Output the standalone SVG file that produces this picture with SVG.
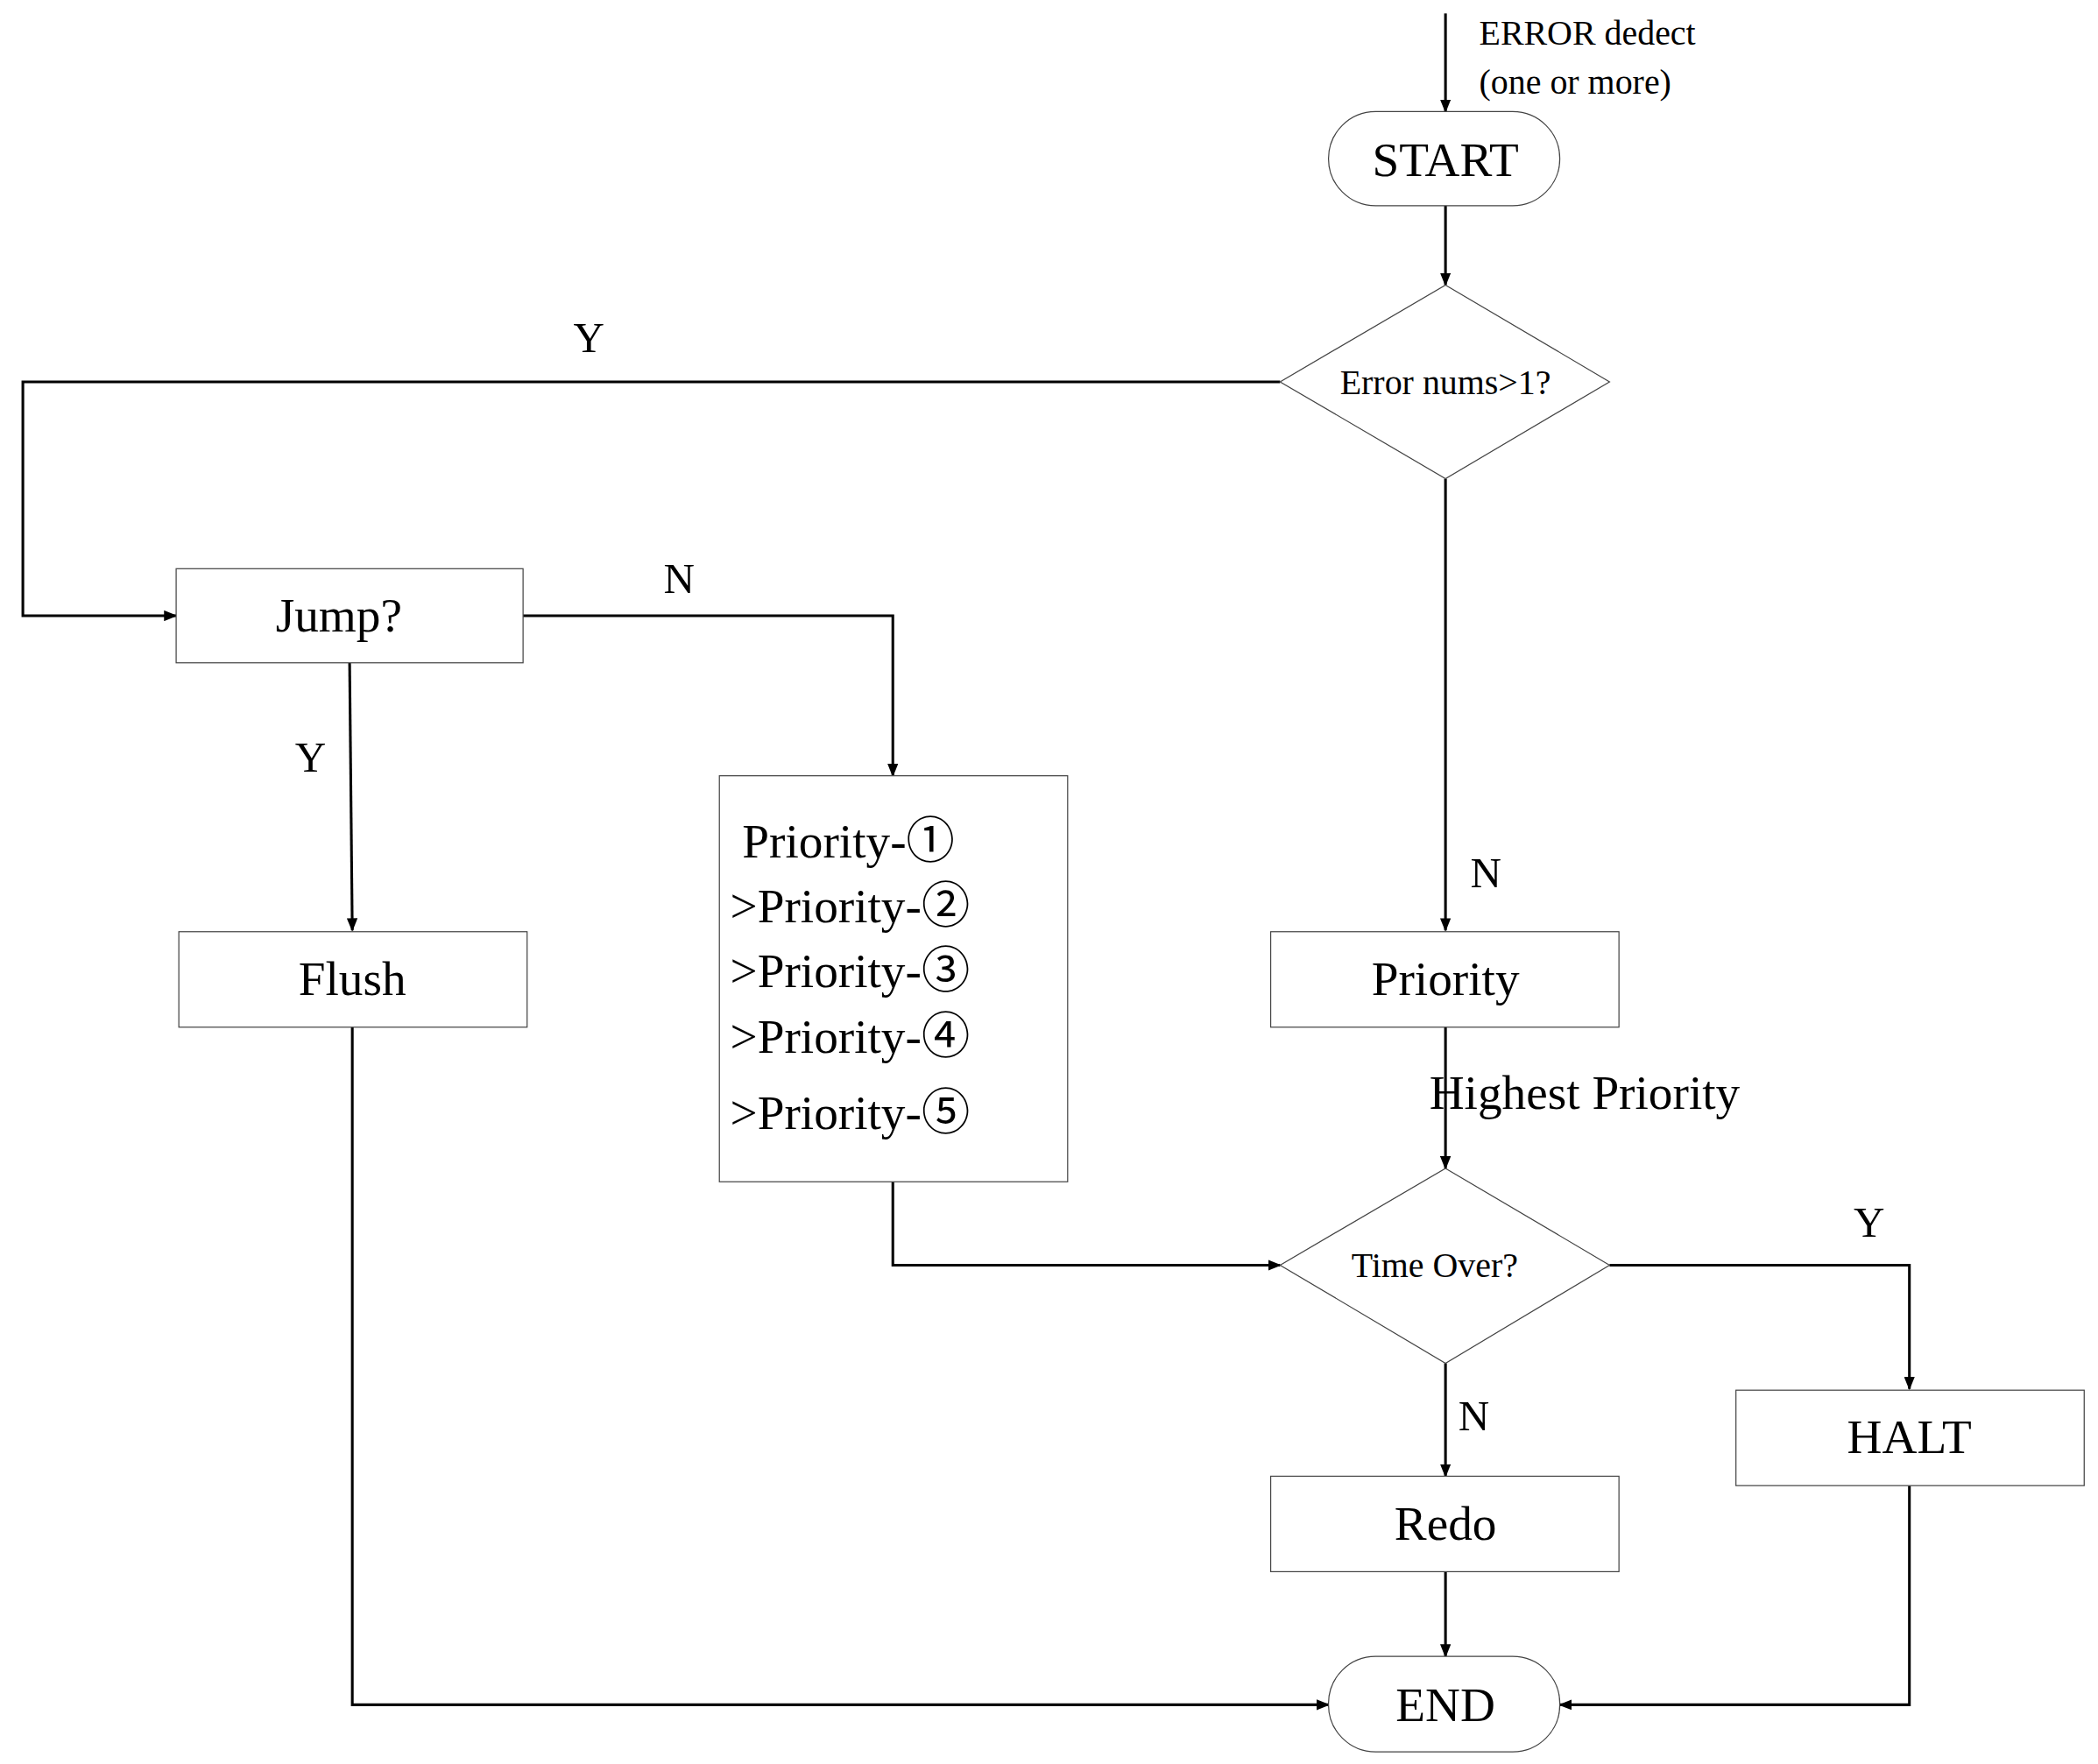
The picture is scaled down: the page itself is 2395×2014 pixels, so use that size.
<svg xmlns="http://www.w3.org/2000/svg" width="2395" height="2014" viewBox="0 0 2395 2014">
<style>
.n{fill:#fff;stroke:#444;stroke-width:0.8}
.c{fill:none;stroke:#000;stroke-width:2}
text{font-family:"Liberation Serif","Noto Sans CJK SC",serif;fill:#000}
.m{text-anchor:middle}
</style>
<defs><marker id="a" markerWidth="10" markerHeight="8" refX="9" refY="4" orient="auto" markerUnits="userSpaceOnUse"><path d="M0,0L10,4L0,8z" fill="#000"/></marker></defs>
<rect width="2395" height="2014" fill="#fff"/>
<g transform="scale(1.535)">
<g id="connectors">
<path class="c" d="M1075,10V83" marker-end="url(#a)"/>
<path class="c" d="M1075,153V212" marker-end="url(#a)"/>
<path class="c" d="M952,284H17V458H131" marker-end="url(#a)"/>
<path class="c" d="M389,458H664V577" marker-end="url(#a)"/>
<path class="c" d="M260,493L262,692" marker-end="url(#a)"/>
<path class="c" d="M1075,356V692" marker-end="url(#a)"/>
<path class="c" d="M1075,764V869" marker-end="url(#a)"/>
<path class="c" d="M664,879V941H952" marker-end="url(#a)"/>
<path class="c" d="M1197,941H1420V1033" marker-end="url(#a)"/>
<path class="c" d="M1075,1014V1098" marker-end="url(#a)"/>
<path class="c" d="M1075,1169V1232" marker-end="url(#a)"/>
<path class="c" d="M262,764V1268H988" marker-end="url(#a)"/>
<path class="c" d="M1420,1105V1268H1160" marker-end="url(#a)"/>
<text x="1100" y="33" font-size="26">ERROR dedect</text>
<text x="1100" y="70" font-size="26">(one or more)</text>
<text x="438" y="262" font-size="32" class="m">Y</text>
<text x="505" y="441" font-size="32" class="m">N</text>
<text x="231" y="574" font-size="32" class="m">Y</text>
<text x="1105" y="660" font-size="32" class="m">N</text>
<text x="1063" y="825" font-size="36">Highest Priority</text>
<text x="1390" y="920" font-size="32" class="m">Y</text>
<text x="1096" y="1064" font-size="32" class="m">N</text>
</g>
<g id="start"><rect class="n" x="988" y="83" width="172" height="70" rx="35"/><text x="1075" y="131" font-size="36" class="m">START</text></g>
<g id="d1"><path class="n" d="M1075,212L1197,284L1075,356L952,284z"/><text x="1075" y="293" font-size="26" class="m">Error nums&gt;1?</text></g>
<g id="jump"><rect class="n" x="131" y="423" width="258" height="70"/><text x="252" y="470" font-size="36" class="m">Jump?</text></g>
<g id="flush"><rect class="n" x="133" y="693" width="259" height="71"/><text x="262" y="740" font-size="36" class="m">Flush</text></g>
<g id="plist"><rect class="n" x="535" y="577" width="259" height="302"/>
<text x="552" y="638" font-size="36">Priority-①</text>
<text x="543" y="686" font-size="36">&gt;Priority-②</text>
<text x="543" y="734" font-size="36">&gt;Priority-③</text>
<text x="543" y="783" font-size="36">&gt;Priority-④</text>
<text x="543" y="840" font-size="36">&gt;Priority-⑤</text></g>
<g id="priority"><rect class="n" x="945" y="693" width="259" height="71"/><text x="1075" y="740" font-size="36" class="m">Priority</text></g>
<g id="d2"><path class="n" d="M1075,869L1197,941L1075,1014L952,941z"/><text x="1067" y="950" font-size="26" class="m">Time Over?</text></g>
<g id="halt"><rect class="n" x="1291" y="1034" width="259" height="71"/><text x="1420" y="1081" font-size="36" class="m">HALT</text></g>
<g id="redo"><rect class="n" x="945" y="1098" width="259" height="71"/><text x="1075" y="1145" font-size="36" class="m">Redo</text></g>
<g id="end"><rect class="n" x="988" y="1232" width="172" height="71" rx="35"/><text x="1075" y="1280" font-size="36" class="m">END</text></g>
</g>
</svg>
